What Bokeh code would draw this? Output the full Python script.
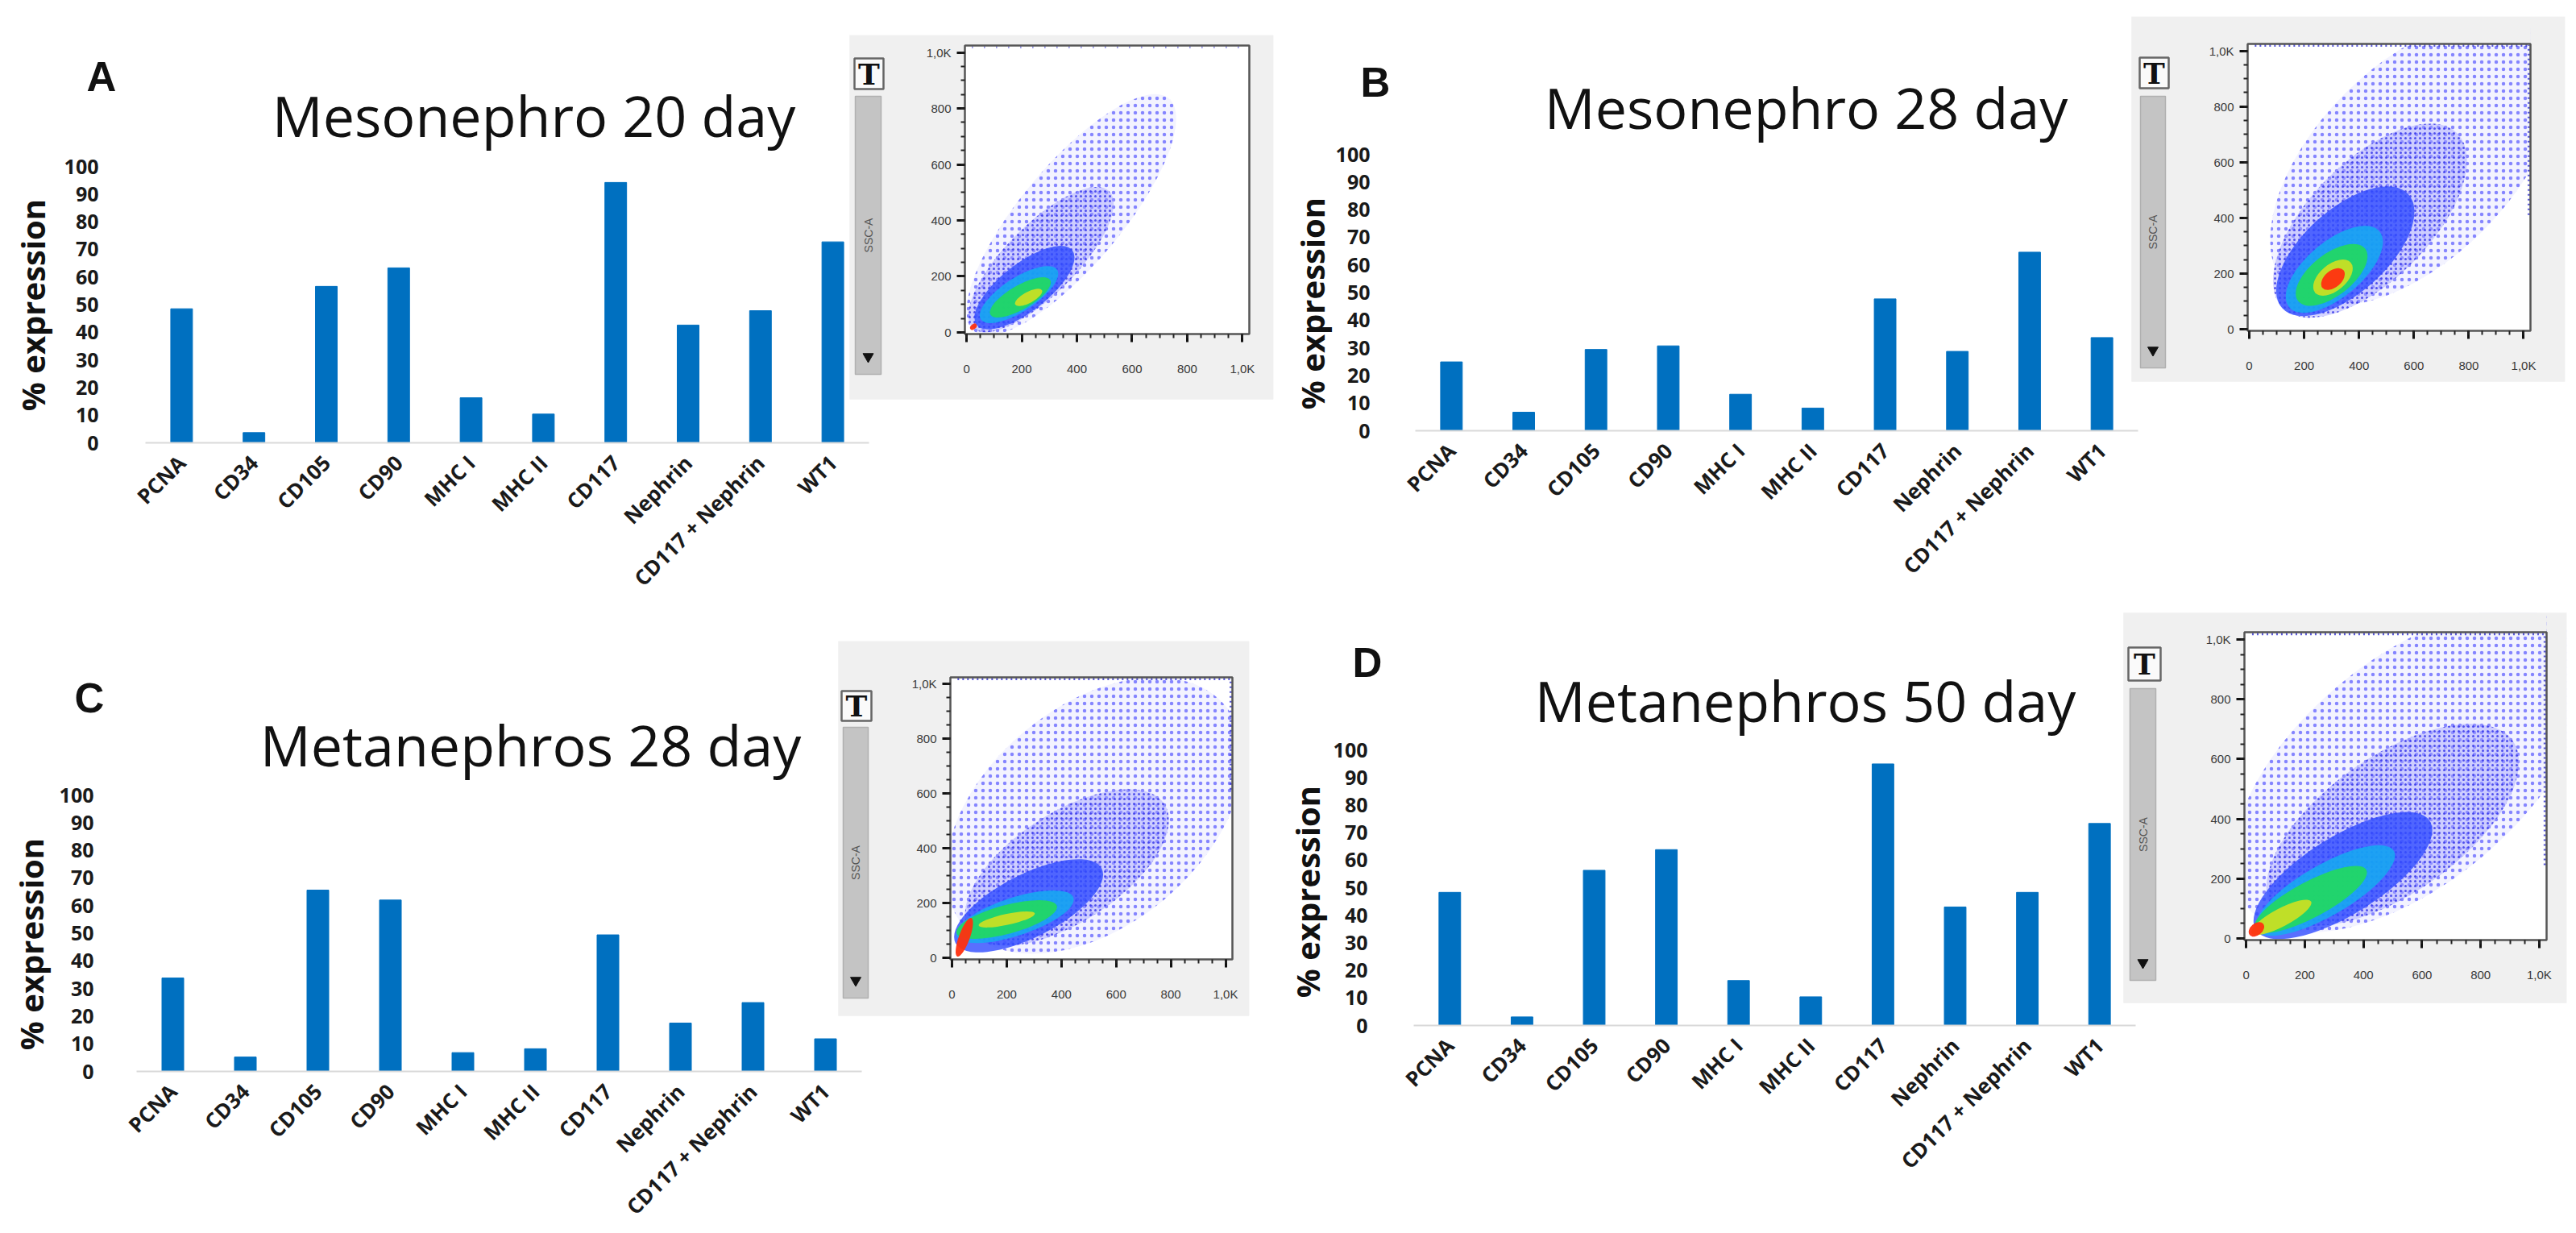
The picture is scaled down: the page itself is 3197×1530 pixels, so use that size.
from math import pi
from bokeh.plotting import figure
from bokeh.models import Range1d, LinearAxis, FixedTicker, SingleIntervalTicker, Label
from bokeh.layouts import column, row
from bokeh.embed import file_html
from bokeh.resources import INLINE

# ---------------- data ----------------
categories = ["PCNA", "CD34", "CD105", "CD90", "MHC I", "MHC II",
              "CD117", "Nephrin", "CD117 + Nephrin", "WT1"]
meso20_values = [48.5, 3.7, 56.6, 63.3, 16.3, 10.4, 94.2, 42.6, 47.8, 72.7]
meso28_values = [24.9, 6.7, 29.4, 30.7, 13.2, 8.2, 47.7, 28.7, 64.6, 33.7]
meta28_values = [33.8, 5.2, 65.6, 62.0, 6.8, 8.2, 49.4, 17.5, 24.9, 11.8]
meta50_values = [48.3, 3.1, 56.3, 63.8, 16.3, 10.4, 94.9, 43.0, 48.3, 73.3]
y_ticks = list(range(0, 101, 10))
panel_titles = ["Mesonephro 20 day", "Mesonephro 28 day",
                "Metanephros 28 day", "Metanephros 50 day"]
panel_letters = ["A", "B", "C", "D"]

facs_tick_labels = {1000: "1,0K"}
facs_ylabel = "SSC-A"

# density regions of each FACS dot plot (FSC/SSC scale 0-1000), outer -> core
facs_a_cx = [380, 270, 210, 190, 195, 225, 25]
facs_a_cy = [420, 260, 160, 135, 125, 125, 20]
facs_a_w = [1100, 700, 440, 330, 250, 110, 28]
facs_a_h = [360, 250, 170, 120, 85, 40, 18]
facs_a_ang = [50, 45, 38, 33, 30, 28, 40]

facs_b_cx = [600, 440, 350, 310, 300, 305, 305]
facs_b_cy = [600, 390, 280, 215, 195, 185, 180]
facs_b_w = [1300, 900, 620, 430, 310, 170, 100]
facs_b_h = [700, 430, 300, 200, 150, 95, 60]
facs_b_ang = [45, 45, 42, 40, 38, 40, 40]

facs_c_cx = [520, 420, 280, 230, 200, 200, 45]
facs_c_cy = [520, 330, 190, 150, 140, 140, 75]
facs_c_w = [1250, 850, 600, 450, 380, 210, 150]
facs_c_h = [800, 400, 230, 140, 105, 40, 40]
facs_c_ang = [40, 33, 27, 18, 15, 12, 70]

facs_d_cx = [560, 500, 330, 270, 220, 120, 35]
facs_d_cy = [560, 380, 210, 160, 130, 70, 30]
facs_d_w = [1450, 1000, 700, 540, 430, 230, 60]
facs_d_h = [750, 460, 260, 170, 120, 60, 40]
facs_d_ang = [40, 35, 32, 30, 28, 28, 40]

# saturated events piled on the right edge start at this SSC value (None = none)
facs_right_edge_from = [None, 410, 615, 245]

# ---------------- styles ----------------
BAR_BLUE = "#0070C0"
LEVEL_FILL = ["#D8D8FF", "#A0A0FF", "#2F4BFF", "#12B0F0", "#22DD55", "#D0E020", "#FF3010"]
LEVEL_ALPHA = [0.3, 0.45, 0.8, 0.8, 0.85, 0.9, 0.95]
LEVEL_HATCH = ["dot", "dot", " ", " ", " ", " ", " "]
LEVEL_HATCH_COLOR = ["#6060FF", "#2525E8", "#1020D0", "#1020D0", "#1020D0", "#1020D0", "#1020D0"]
LEVEL_HATCH_SCALE = [9, 6, 5, 5, 5, 5, 5]
GREY = "#F0F0F0"
LO, HI = -6, 1025
TXT = "#1a1a1a"


def build_panel(idx, values, layers, fig_left, fig_top, fig_w, fig_h,
                ax_left, ax_right, base_y, y100, tick_right, letter_xy, title_xy, ylabel_xy,
                grey, frame, tbtn, scroll):
    n = len(categories)
    ux = (ax_right - ax_left) / n
    uy = (base_y - y100) / 100.0
    fig_right = fig_left + fig_w
    fig_bottom = fig_top + fig_h

    def xd(px):
        return (px - ax_left) / ux

    def yd(py):
        return (base_y - py) / uy

    p = figure(width=fig_w, height=fig_h,
               x_range=Range1d(xd(fig_left), xd(fig_right)),
               y_range=Range1d(yd(fig_bottom), yd(fig_top)),
               x_axis_location=None, y_axis_location=None,
               toolbar_location=None, output_backend="svg", title=None,
               min_border_left=0, min_border_right=0, min_border_top=0, min_border_bottom=0)
    p.grid.visible = False
    p.outline_line_color = None
    p.background_fill_color = "white"
    p.border_fill_color = "white"

    centers = [i + 0.5 for i in range(n)]
    p.vbar(x=centers, top=values, width=0.3, color=BAR_BLUE)

    xax = LinearAxis(fixed_location=0, ticker=FixedTicker(ticks=centers),
                     major_label_overrides={c: name for c, name in zip(centers, categories)},
                     bounds=(0, n), axis_line_color="#D9D9D9", axis_line_width=2,
                     major_tick_line_color=None, minor_tick_line_color=None,
                     major_label_orientation=pi / 4, major_label_standoff=14,
                     major_label_text_font="Open Sans", major_label_text_font_style="bold",
                     major_label_text_font_size="26px", major_label_text_color=TXT)
    p.add_layout(xax, "below")
    yax = LinearAxis(fixed_location=0, ticker=FixedTicker(ticks=y_ticks), bounds=(0, 100),
                     axis_line_color=None, major_tick_line_color=None, minor_tick_line_color=None,
                     major_label_standoff=int(ax_left - tick_right),
                     major_label_text_font="Open Sans", major_label_text_font_style="bold",
                     major_label_text_font_size="25px", major_label_text_color=TXT)
    p.add_layout(yax, "left")

    p.add_layout(Label(x=xd(letter_xy[0]), y=yd(letter_xy[1]), text=panel_letters[idx],
                       text_font="Liberation Sans", text_font_style="bold",
                       text_font_size="51px", text_color="#111111",
                       text_align="left", text_baseline="alphabetic"))
    p.add_layout(Label(x=xd(title_xy[0]), y=yd(title_xy[1]), text=panel_titles[idx],
                       text_font="Open Sans", text_font_size="70px", text_color="#111111",
                       text_align="center", text_baseline="alphabetic"))
    p.add_layout(Label(x=xd(ylabel_xy[0]), y=yd(ylabel_xy[1]), text="% expression",
                       angle=pi / 2, text_font="Open Sans", text_font_style="bold",
                       text_font_size="40px", text_color="#111111",
                       text_align="center", text_baseline="middle"))

    # ---------- FACS inset ----------
    IL, IT, IR, IB = frame
    sx = (IR - IL) / (HI - LO)
    sy = (IB - IT) / (HI - LO)

    def ixp(px):
        return LO + (px - IL) / sx

    def iyp(py):
        return LO + (IB - py) / sy

    p.extra_x_ranges = {"ix": Range1d(ixp(fig_left), ixp(fig_right))}
    p.extra_y_ranges = {"iy": Range1d(iyp(fig_bottom), iyp(fig_top))}
    kw = dict(x_range_name="ix", y_range_name="iy")
    GL, GT, GR, GB = grey
    p.quad(left=[ixp(GL)], right=[ixp(GR)], bottom=[iyp(GB)], top=[iyp(GT)],
           fill_color=GREY, line_color=None, **kw)
    p.quad(left=[LO], right=[HI], bottom=[LO], top=[HI], fill_color="white",
           line_color=None, **kw)

    cx, cy, w, h, ang = layers
    for i in range(len(cx)):
        p.ellipse(x=[cx[i]], y=[cy[i]], width=[w[i]], height=[h[i]], angle=[ang[i]],
                  angle_units="deg", fill_color=LEVEL_FILL[i], fill_alpha=LEVEL_ALPHA[i],
                  hatch_pattern=LEVEL_HATCH[i], hatch_color=LEVEL_HATCH_COLOR[i],
                  hatch_scale=LEVEL_HATCH_SCALE[i], hatch_weight=1.6, hatch_alpha=0.75,
                  line_color=None, **kw)

    # saturated events along the top / right edge
    p.segment(x0=[20], y0=[HI - 6], x1=[HI - 4], y1=[HI - 6], line_color="#3030D0",
              line_width=3, line_dash="2 4" if idx else "1 14", line_alpha=0.8, **kw)
    if facs_right_edge_from[idx] is not None:
        p.segment(x0=[HI - 6], y0=[facs_right_edge_from[idx]], x1=[HI - 6], y1=[HI - 4],
                  line_color="#3030D0", line_width=3, line_dash="2 4", line_alpha=0.8, **kw)

    # masks keeping the density inside the dot-plot frame
    big = 4000
    for l, r, b, t in [(ixp(GL), LO, iyp(GB), iyp(GT)), (HI, ixp(GR), iyp(GB), iyp(GT)),
                       (LO, HI, HI, iyp(GT)), (LO, HI, iyp(GB), LO)]:
        p.quad(left=[l], right=[r], bottom=[b], top=[t], fill_color=GREY, line_color=None, **kw)
    for l, r, b, t in [(ixp(GL), ixp(GR) + big, iyp(GT), iyp(GT) + big),
                       (ixp(GR), ixp(GR) + big, iyp(GB) - big, iyp(GT) + big)]:
        p.quad(left=[l], right=[r], bottom=[b], top=[t], fill_color="white", line_color=None, **kw)

    p.quad(left=[LO], right=[HI], bottom=[LO], top=[HI], fill_color=None,
           line_color="#555555", line_width=2.5, **kw)

    # "T" button and scroll bar
    TL, TT, TR, TB = tbtn
    p.quad(left=[ixp(TL)], right=[ixp(TR)], bottom=[iyp(TB)], top=[iyp(TT)],
           fill_color="#FAFAFA", line_color="#666666", line_width=2.5, **kw)
    p.add_layout(Label(x=ixp((TL + TR) / 2), y=iyp((TT + TB) / 2), text="T",
                       text_font="DejaVu Serif", text_font_style="bold",
                       text_font_size="36px", text_color="#111111",
                       text_align="center", text_baseline="middle", **kw))
    SL, ST, SR, SB = scroll
    p.quad(left=[ixp(SL)], right=[ixp(SR)], bottom=[iyp(SB)], top=[iyp(ST)],
           fill_color="#C4C4C4", line_color="#B0B0B0", line_width=1.5, **kw)
    p.add_layout(Label(x=ixp((SL + SR) / 2), y=iyp((ST + SB) / 2), text=facs_ylabel,
                       angle=pi / 2, text_font="Liberation Sans", text_font_size="14px",
                       text_color="#555555", text_align="center", text_baseline="middle", **kw))
    p.scatter(x=[ixp((SL + SR) / 2)], y=[iyp(SB - 22)], marker="inverted_triangle",
              size=13, color="#111111", **kw)

    common = dict(bounds=(0, 1000), axis_line_color=None,
                  ticker=SingleIntervalTicker(interval=200, num_minor_ticks=4),
                  major_label_overrides=facs_tick_labels,
                  major_tick_in=0, major_tick_out=10, major_tick_line_width=3,
                  major_tick_line_color="#111111",
                  minor_tick_in=0, minor_tick_out=5, minor_tick_line_width=2,
                  minor_tick_line_color="#222222",
                  major_label_text_font="Liberation Sans",
                  major_label_text_font_size="15px", major_label_text_color="#3a3a3a")
    fxa = LinearAxis(fixed_location=LO, major_label_standoff=24, **common, **kw)
    p.add_layout(fxa, "below")
    fya = LinearAxis(fixed_location=LO, major_label_standoff=7, **common, **kw)
    p.add_layout(fya, "left")
    return p


pA = build_panel(0, meso20_values, (facs_a_cx, facs_a_cy, facs_a_w, facs_a_h, facs_a_ang),
                 0, 0, 1590, 760, 180, 1078, 549, 206, 128,
                 (107, 95), (662, 142), (40, 378),
                 (1054, 43, 1580, 495), (1197, 56, 1550, 414),
                 (1060, 72, 1096, 110), (1061, 119, 1093, 464))
pB = build_panel(1, meso28_values, (facs_b_cx, facs_b_cy, facs_b_w, facs_b_h, facs_b_ang),
                 1590, 0, 1600, 760, 1756, 2653, 534, 191, 1706,
                 (1688, 102), (2241, 132), (1628, 376),
                 (2645, 20, 3183, 473), (2789, 54, 3140, 410),
                 (2655, 71, 2691, 109), (2656, 119, 2687, 456))
pC = build_panel(2, meta28_values, (facs_c_cx, facs_c_cy, facs_c_w, facs_c_h, facs_c_ang),
                 0, 760, 1590, 762, 169, 1069, 1329, 986, 122,
                 (92, 866), (658, 923), (38, 1171),
                 (1040, 795, 1550, 1260), (1179, 840, 1529, 1190),
                 (1044, 857, 1081, 894), (1046, 902, 1077, 1238))
pD = build_panel(3, meta50_values, (facs_d_cx, facs_d_cy, facs_d_w, facs_d_h, facs_d_ang),
                 1590, 760, 1600, 762, 1754, 2650, 1272, 930, 1703,
                 (1678, 822), (2240, 868), (1622, 1106),
                 (2635, 759, 3185, 1244), (2785, 784, 3160, 1166),
                 (2641, 803, 2681, 844), (2643, 854, 2675, 1216))

layout = column(row(pA, pB), row(pC, pD))
open("out.html", "w").write(file_html(layout, INLINE))
